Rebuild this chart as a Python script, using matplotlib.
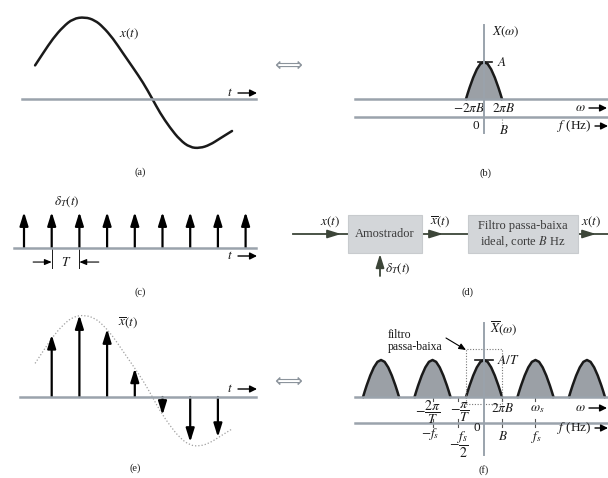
import matplotlib
matplotlib.use('Agg')
import matplotlib.pyplot as plt
from matplotlib.patches import Rectangle, PathPatch
from matplotlib.path import Path

plt.rcParams['font.family'] = ['Liberation Serif', 'DejaVu Serif']
plt.rcParams['mathtext.fontset'] = 'stix'

# ---------------- data ----------------
# continuous signal x(t); t in units of the sampling period T, amplitude normalised
curve_t = [0.40, 0.69, 1.05, 1.41, 1.77, 2.20, 2.56, 2.85, 3.21, 3.57, 3.94,
           4.30, 4.62, 4.91, 5.27, 5.63, 5.99, 6.35, 6.71, 7.08, 7.51]
curve_x = [0.41, 0.56, 0.74, 0.88, 0.98, 1.00, 0.96, 0.88, 0.74, 0.56, 0.38,
           0.20, 0.01, -0.17, -0.35, -0.50, -0.59, -0.60, -0.56, -0.48, -0.39]
# impulse train delta_T(t)
impulse_n = [0, 1, 2, 3, 4, 5, 6, 7, 8]
# samples of x(t)
sample_n = [1, 2, 3, 4, 5, 6, 7]
sample_x = [0.76, 1.00, 0.83, 0.35, -0.22, -0.55, -0.49]
# spectrum shape; omega in units of 2*pi*B, height in units of A
spec_w = [-1.0, -0.9, -0.8, -0.6, -0.4, -0.2, 0.0, 0.2, 0.4, 0.6, 0.8, 0.9, 1.0]
spec_h = [0.0, 0.16, 0.31, 0.58, 0.80, 0.95, 1.0, 0.95, 0.80, 0.58, 0.31, 0.16, 0.0]
ws = 2.86            # sampling frequency omega_s in units of 2*pi*B
replica_k = [-2, -1, 0, 1, 2]
filter_height = 1.3  # ideal low-pass filter drawn height (units of A/T)

# ---------------- layout ----------------
W, H = 608, 478
fig = plt.figure(figsize=(W / 100, H / 100), dpi=100)
fig.patch.set_facecolor('white')

AX_C = '#9aa3ac'
LINE_C = '#1a1a1a'
FILL_C = '#9ba0a6'
FS = 9.5


def panel(box, x0px, xscale, y0px, yscale):
    l, t, r, b = box
    ax = fig.add_axes([l / W, 1 - b / H, (r - l) / W, (b - t) / H])
    ax.set_xlim((l - x0px) / xscale, (r - x0px) / xscale)
    ax.set_ylim((y0px - b) / yscale, (y0px - t) / yscale)
    ax.axis('off')
    return ax


lay = fig.add_axes([0, 0, 1, 1], zorder=5)
lay.set_xlim(0, W)
lay.set_ylim(H, 0)
lay.axis('off')


def arrow(ax, x0, y0, x1, y1, lw=1.0, ms=8, color='k', hl=0.6, hw=0.3):
    ax.annotate('', xy=(x1, y1), xytext=(x0, y0),
                arrowprops=dict(arrowstyle=f'-|>,head_length={hl},head_width={hw}',
                                lw=lw, color=color, mutation_scale=ms,
                                shrinkA=0, shrinkB=0))


def txt(x, y, s, size=FS, ha='center', va='center', **kw):
    lay.text(x, y, s, fontsize=size, ha=ha, va=va, color='#1a1a1a', **kw)


def t_arrow(x, y):
    txt(230, y, '$t$')
    arrow(lay, 238, y, 257, y, lw=1.0, ms=7)


def smooth(ax, xs, ys, **kw):
    # quadratic Bezier path through the read points (midpoint smoothing)
    verts = [(xs[0], ys[0])]
    codes = [Path.MOVETO]
    for i in range(1, len(xs) - 1):
        verts += [(xs[i], ys[i]), ((xs[i] + xs[i + 1]) / 2, (ys[i] + ys[i + 1]) / 2)]
        codes += [Path.CURVE3, Path.CURVE3]
    verts.append((xs[-1], ys[-1]))
    codes.append(Path.LINETO)
    ax.add_patch(PathPatch(Path(verts, codes), fill=False, **kw))


# ---------- (a) ----------
ax_a = panel((0, 0, 300, 180), 24, 27.7, 99, 82)
lay.plot([22, 256], [99, 99], color=AX_C, lw=1.8, zorder=1)
smooth(ax_a, curve_t, curve_x, edgecolor=LINE_C, lw=1.8, capstyle='round')
txt(129, 34, '$x(t)$')
t_arrow(231, 93)
txt(140, 172, '(a)', 7.5)

# ---------- (c) ----------
ax_c = panel((0, 180, 300, 300), 24, 27.7, 248, 36)
lay.plot([14, 256], [248, 248], color=AX_C, lw=1.8, zorder=1)
for n in impulse_n:
    arrow(ax_c, n, 0, n, 1, lw=1.6, ms=10, hl=0.8, hw=0.25)
# period marker
ax_c.plot([1, 1], [0, -0.56], color=LINE_C, lw=0.7)
ax_c.plot([2, 2], [0, -0.56], color=LINE_C, lw=0.7)
arrow(ax_c, 0.33, -0.39, 1, -0.39, lw=0.8, ms=7, hl=0.6, hw=0.25)
arrow(ax_c, 2.7, -0.39, 2, -0.39, lw=0.8, ms=7, hl=0.6, hw=0.25)
txt(66, 262, '$T$')
txt(67, 202, r'$\delta_T(t)$')
t_arrow(231, 256)
txt(140, 292, '(c)', 7.5)

# ---------- (e) ----------
ax_e = panel((0, 300, 300, 478), 24, 27.7, 397, 82)
lay.plot([20, 256], [397, 397], color=AX_C, lw=1.8, zorder=1)
smooth(ax_e, curve_t, curve_x, edgecolor='#a0a0a0', lw=0.9, ls=(0, (1, 1.6)))
for n, v in zip(sample_n, sample_x):
    arrow(ax_e, n, 0, n, v, lw=1.6, ms=10, hl=0.8, hw=0.25)
txt(128, 323, r'$\overline{x}(t)$')
t_arrow(231, 389)
txt(135, 468, '(e)', 7.5)

# ---------- (b) ----------
ax_b = panel((300, 0, 608, 180), 484, 18, 99, 37)
lay.plot([355, 608], [99, 99], color=AX_C, lw=1.8, zorder=1)
lay.plot([355, 608], [117, 117], color=AX_C, lw=1.8, zorder=1)
ax_b.fill_between(spec_w, spec_h, 0, color=FILL_C, lw=0, zorder=2)
ax_b.plot(spec_w, spec_h, color=LINE_C, lw=1.8, zorder=3)
ax_b.plot([-0.33, 0.44], [1, 1], color=LINE_C, lw=1.2, zorder=3)
ax_b.plot([1, 1], [-0.54, -0.76], color='#888888', lw=0.8, ls=':')
lay.plot([484, 484], [25, 133], color=AX_C, lw=1.4, zorder=6)
txt(492, 32, r'$X(\omega)$', ha='left')
txt(497, 62, '$A$', ha='left')
txt(469, 108, r'$-2\pi B$')
txt(504, 108, r'$2\pi B$')
txt(476, 126, '0')
txt(504, 131, '$B$')
txt(580, 108, r'$\omega$')
arrow(lay, 589, 108, 607, 108, lw=1.0, ms=7)
txt(592, 126, r'$f$ (Hz)', ha='right')
arrow(lay, 595, 126, 608, 126, lw=1.0, ms=7)
txt(485, 173, '(b)', 7.5)

# double arrows
for y in (65, 381):
    lay.text(288, y, '\u27fa', fontsize=14, color='#8c949c', ha='center', va='center',
             family=['DejaVu Sans'])

# ---------- (d) block diagram ----------
LC = '#3c4538'
lay.plot([293, 608], [234, 234], color=LC, lw=1.3, zorder=6)
for (l, r) in ((348, 422), (468, 578)):
    lay.add_patch(Rectangle((l, 215), r - l, 38, facecolor='#d3d6d9', edgecolor='#c8cbce',
                            lw=0.8, zorder=7))
for tip in (341, 443, 596):
    arrow(lay, tip - 12, 234, tip, 234, lw=1.2, ms=9, color=LC, hl=0.9, hw=0.28)
arrow(lay, 380, 276, 380, 254, lw=1.3, ms=9, color=LC, hl=0.9, hw=0.28)
lay.text(385, 234, 'Amostrador', fontsize=9, ha='center', va='center', color='#3a3a3a', zorder=8)
lay.text(523, 226, 'Filtro passa-baixa', fontsize=9, ha='center', va='center', color='#3a3a3a', zorder=8)
lay.text(523, 242, 'ideal, corte $B$ Hz', fontsize=9, ha='center', va='center', color='#3a3a3a', zorder=8)
txt(330, 222, '$x(t)$')
txt(440, 222, r'$\overline{x}(t)$')
txt(591, 222, '$x(t)$')
txt(385, 269, r'$\delta_T(t)$', ha='left')
txt(467, 292, '(d)', 7.5)

# ---------- (f) ----------
ax_f = panel((300, 300, 608, 478), 484, 18, 397, 37)
lay.plot([355, 608], [397, 397], color=AX_C, lw=1.8, zorder=1)
lay.plot([355, 608], [423, 423], color=AX_C, lw=1.8, zorder=1)
for k in replica_k:
    w = [k * ws + s for s in spec_w]
    ax_f.fill_between(w, spec_h, 0, color=FILL_C, lw=0, zorder=2)
    ax_f.plot(w, spec_h, color=LINE_C, lw=1.8, zorder=3)
ax_f.plot([-0.5, 0.5], [1, 1], color=LINE_C, lw=1.2, zorder=3)
ax_f.add_patch(Rectangle((-1, -0.2), 2, filter_height + 0.2, fill=False, edgecolor='#777777',
                         lw=0.8, ls=(0, (1, 1.5)), zorder=4))
for p in (-ws, -ws / 2, 1, ws):
    ax_f.plot([p, p], [-0.59, -0.81], color='#555555', lw=0.8)
    ax_f.plot([p, p], [0, -0.11], color='#555555', lw=0.8)
lay.plot([484, 484], [323, 455], color=AX_C, lw=1.4, zorder=6)
txt(490, 328, r'$\overline{X}(\omega)$', ha='left')
txt(497, 360, '$A/T$', ha='left')
txt(428, 412, r'$-\dfrac{2\pi}{T}$', 10)
txt(460, 412, r'$-\dfrac{\pi}{T}$', 10)
txt(503, 409, r'$2\pi B$')
txt(537, 409, r'$\omega_s$')
txt(580, 408, r'$\omega$')
arrow(lay, 589, 408, 607, 408, lw=1.0, ms=7)
txt(430, 434, '$-f_s$')
txt(459, 445, r'$-\dfrac{f_s}{2}$', 10)
txt(477, 428, '0')
txt(503, 437, '$B$')
txt(537, 437, '$f_s$')
txt(592, 428, r'$f$ (Hz)', ha='right')
arrow(lay, 595, 428, 608, 428, lw=1.0, ms=7)
txt(388, 335, 'filtro', 8.5, ha='left')
txt(388, 347, 'passa-baixa', 8.5, ha='left')
arrow(lay, 446, 338, 466, 350, lw=0.8, ms=6, hl=0.7, hw=0.3)
txt(484, 470, '(f)', 7.5)

fig.savefig('out.png', dpi=100, facecolor='white')
